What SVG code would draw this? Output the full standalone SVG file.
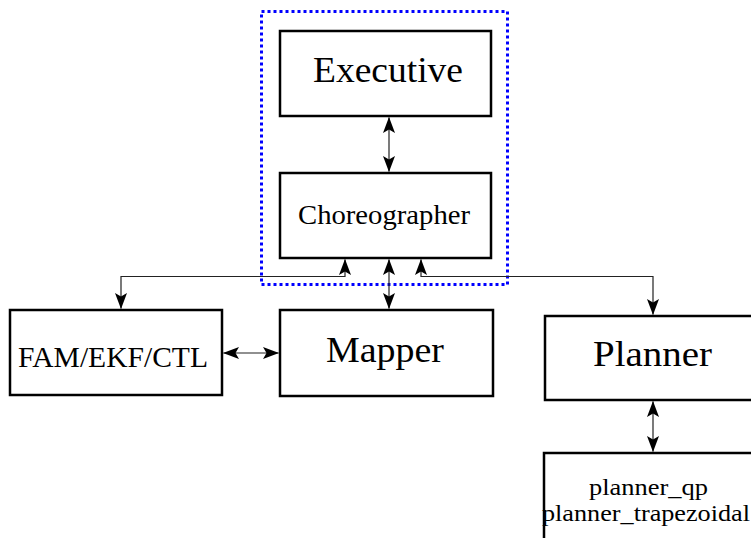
<svg xmlns="http://www.w3.org/2000/svg" width="751" height="538" viewBox="0 0 751 538">
<style>
.box{fill:#fff;stroke:#000;stroke-width:2.5}
.lbl{font-family:"Liberation Serif","Times New Roman",serif;fill:#000;text-anchor:middle}
.con{fill:none;stroke:#222;stroke-width:1.2;marker-start:url(#ah);marker-end:url(#ah)}
.grp{fill:none;stroke:#0000ff;stroke-width:3;stroke-dasharray:3 3}
</style>
<defs>
<marker id="ah" viewBox="-17 -8 18 16" refX="0" refY="0" markerWidth="18" markerHeight="16" markerUnits="userSpaceOnUse" orient="auto-start-reverse">
<path d="M0.5,0 L-15.5,-6 L-12,0 L-15.5,6 Z" fill="#000"/>
</marker>
</defs>
<rect width="751" height="538" fill="#fff"/>
<g id="group-box">
<rect class="grp" x="261.5" y="11.5" width="246" height="273"/>
</g>
<g id="executive">
<rect class="box" x="280" y="31" width="211" height="85"/>
<text class="lbl" x="388" y="82" font-size="35" textLength="150" lengthAdjust="spacingAndGlyphs">Executive</text>
</g>
<g id="choreographer">
<rect class="box" x="280" y="173" width="211" height="85"/>
<text class="lbl" x="384" y="224" font-size="28" textLength="172" lengthAdjust="spacingAndGlyphs">Choreographer</text>
</g>
<g id="fam">
<rect class="box" x="10" y="310" width="212" height="85"/>
<text class="lbl" x="113" y="367" font-size="30" textLength="190" lengthAdjust="spacingAndGlyphs">FAM/EKF/CTL</text>
</g>
<g id="mapper">
<rect class="box" x="280" y="310" width="213" height="86"/>
<text class="lbl" x="385" y="362" font-size="35" textLength="118" lengthAdjust="spacingAndGlyphs">Mapper</text>
</g>
<g id="planner">
<rect class="box" x="545" y="316" width="220" height="84"/>
<text class="lbl" x="652.5" y="366" font-size="36" textLength="119" lengthAdjust="spacingAndGlyphs">Planner</text>
</g>
<g id="planner-sub">
<rect class="box" x="544" y="453" width="220" height="100"/>
<text class="lbl" x="648.5" y="495" font-size="24" textLength="119" lengthAdjust="spacingAndGlyphs">planner_qp</text>
<text class="lbl" x="646" y="521" font-size="24" textLength="208" lengthAdjust="spacingAndGlyphs">planner_trapezoidal</text>
</g>
<g id="connectors">
<line class="con" x1="389" y1="117.5" x2="389" y2="171.5"/>
<line class="con" x1="389" y1="259.5" x2="389" y2="308.5"/>
<line class="con" x1="223.5" y1="353" x2="278.5" y2="353"/>
<path class="con" d="M121,308.5 V276.5 H345 V259.5"/>
<path class="con" d="M653,314.5 V276.5 H421 V259.5"/>
<line class="con" x1="653" y1="401.5" x2="653" y2="451.5"/>
</g>
</svg>
